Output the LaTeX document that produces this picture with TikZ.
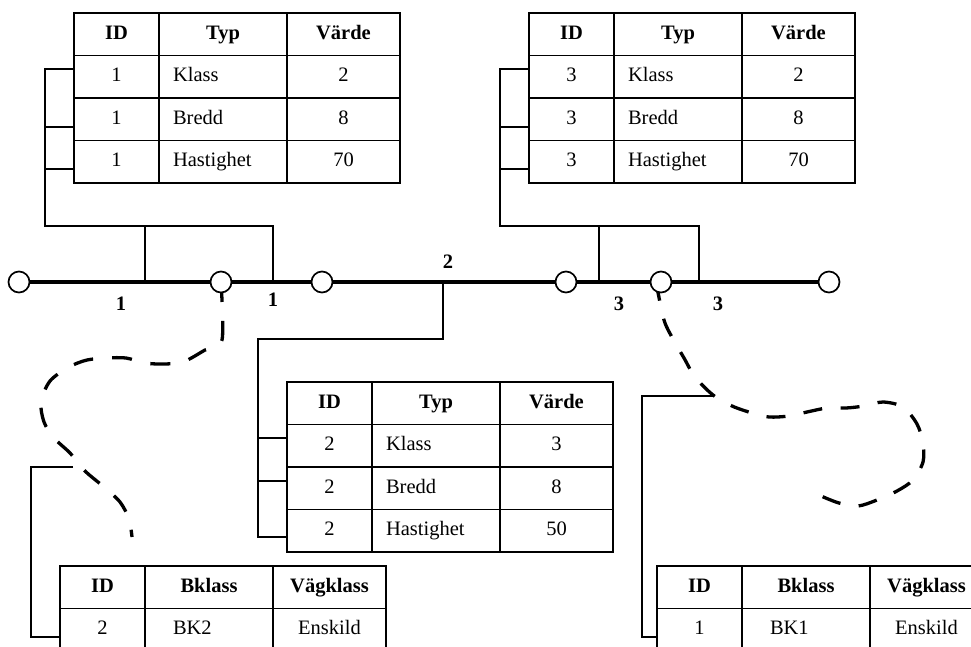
\documentclass[tikz,border=0pt]{standalone}
\usepackage{fontspec}
\setmainfont{Liberation Serif}
\usetikzlibrary{backgrounds}

% one row of a three-column attribute table, hung below row #3
\newcommand\datarow[7]{%
  \node[dcell, colA, anchor=north west] (#1-#2-1) at (#1-#3-1.south west) {#4};
  \node[dcell, colB, #7, anchor=north west] (#1-#2-2) at (#1-#2-1.north east) {#5};
  \node[dcell, colC, anchor=north west] (#1-#2-3) at (#1-#2-2.north east) {#6};}
% heading row of a table, top left corner at #2
\newcommand\headrow[4]{%
  \node[hcell, colA, anchor=north west] (#1-0-1) at (#2) {ID};
  \node[hcell, colB, anchor=north west] (#1-0-2) at (#1-0-1.north east) {#3};
  \node[hcell, colC, anchor=north west] (#1-0-3) at (#1-0-2.north east) {#4};}

\begin{document}
\begin{tikzpicture}[x=1pt, y=-1pt,
  txt/.style={font=\fontsize{20.5}{24}\selectfont},
  grid/.style={txt, draw, line width=1.9pt, outer sep=0pt, inner sep=0pt,
    minimum height=42.5pt, text height=14pt, text depth=4.5pt},
  hcell/.style={grid, font=\fontsize{20.5}{24}\selectfont\bfseries},
  dcell/.style={grid},
  colA/.style={minimum width=85pt},
  colB/.style={minimum width=128pt},
  colC/.style={minimum width=113pt},
  padS/.style={text width=100pt, inner xsep=14pt, align=left},
  padL/.style={text width=72pt, inner xsep=28pt, align=left},
  link/.style={line width=1.7pt},
  road/.style={line width=4.8pt},
  stop/.style={circle, draw, fill=white, line width=1.7pt, minimum size=21pt, inner sep=0pt},
  trace/.style={line width=3.3pt, dash pattern=on 20pt off 19pt},
  lbl/.style={font=\fontsize{20.5}{24}\selectfont\bfseries, inner sep=0pt}]

\useasboundingbox (0,0) rectangle (971,646);
\clip (0,0) rectangle (971,646);

% ---- attribute tables ----
\coordinate (tl-o) at (74,13);
\headrow{tl}{tl-o}{Typ}{Värde}
\datarow{tl}{1}{0}{1}{Klass}{2}{padS}
\datarow{tl}{2}{1}{1}{Bredd}{8}{padS}
\datarow{tl}{3}{2}{1}{Hastighet}{70}{padS}

\coordinate (tr-o) at (529,13);
\headrow{tr}{tr-o}{Typ}{Värde}
\datarow{tr}{1}{0}{3}{Klass}{2}{padS}
\datarow{tr}{2}{1}{3}{Bredd}{8}{padS}
\datarow{tr}{3}{2}{3}{Hastighet}{70}{padS}

\coordinate (mt-o) at (287,382);
\headrow{mt}{mt-o}{Typ}{Värde}
\datarow{mt}{1}{0}{2}{Klass}{3}{padS}
\datarow{mt}{2}{1}{2}{Bredd}{8}{padS}
\datarow{mt}{3}{2}{2}{Hastighet}{50}{padS}

\coordinate (bl-o) at (60,566);
\headrow{bl}{bl-o}{Bklass}{Vägklass}
\datarow{bl}{1}{0}{2}{BK2}{Enskild}{padL}

\coordinate (br-o) at (657,566);
\headrow{br}{br-o}{Bklass}{Vägklass}
\datarow{br}{1}{0}{1}{BK1}{Enskild}{padL}

% ---- road with its nodes ----
\foreach \n/\x in {n1/19, n2/221, n3/322, n4/566, n5/661, n6/829}
  \node[stop] (\n) at (\x,282) {};
\coordinate (j1a) at (145,282);
\coordinate (j1b) at (273,282);
\coordinate (j2)  at (443,282);
\coordinate (j3a) at (599,282);
\coordinate (j3b) at (699,282);

% ---- table to segment links ----
\coordinate (tl-bus) at (45,226);
\coordinate (tl-fork) at (145,226);
\draw[link] ([yshift=7.5pt]tl-1-1.west) -| (tl-bus) -| (j1b);
\draw[link] ([yshift=-7.5pt]tl-2-1.west) -- ++(-29,0);
\draw[link] ([yshift=-7.5pt]tl-3-1.west) -- ++(-29,0);
\draw[link] (tl-fork) -- (j1a);

\coordinate (tr-bus) at (500,226);
\coordinate (tr-fork) at (599,226);
\draw[link] ([yshift=7.5pt]tr-1-1.west) -| (tr-bus) -| (j3b);
\draw[link] ([yshift=-7.5pt]tr-2-1.west) -- ++(-29,0);
\draw[link] ([yshift=-7.5pt]tr-3-1.west) -- ++(-29,0);
\draw[link] (tr-fork) -- (j3a);

\coordinate (mt-bend) at (443,339);
\coordinate (mt-bus) at (258,339);
\draw[link] (j2) -- (mt-bend) -- (mt-bus) |- ([yshift=-6.25pt]mt-3-1.west);
\draw[link] ([yshift=7.75pt]mt-1-1.west) -- ++(-29,0);
\draw[link] ([yshift=7pt]mt-2-1.west) -- ++(-29,0);

\coordinate (bl-tip) at (73,467);
\coordinate (bl-bus) at (31,467);
\draw[link] (bl-tip) -- (bl-bus) |- ([yshift=-7.25pt]bl-1-1.west);

\coordinate (br-tip) at (713,396);
\coordinate (br-bus) at (642,396);
\draw[link] (br-tip) -- (br-bus) |- ([yshift=-7.25pt]br-1-1.west);

% ---- road line ----
\draw[road] (n1) -- (n2) -- (n3) -- (n4) -- (n5) -- (n6);

% ---- segment labels ----
\node[lbl] (s1) at (121,304) {1};
\node[lbl] (s2) at (273,300) {1};
\node[lbl] (s3) at (448,262) {2};
\node[lbl] (s4) at (619,304) {3};
\node[lbl] (s5) at (718,304) {3};

% ---- dashed traces from nodes to their tables ----
\begin{pgfonlayer}{background}
\draw[trace] plot[smooth] coordinates {(n2.center) (222,340) (205,350) (183,362)
  (163,364) (145,363) (126,358) (107,358) (87,360) (69,367) (50,381) (41,402)
  (44,422) (54,438) (70,453) (85,471) (104,487) (120,502) (129,519) (132,537)};
\draw[trace, dash pattern=on 19pt off 18.5pt] plot[smooth] coordinates {([xshift=-5pt]n5.center) (664,320) (673,339)
  (684,358) (695,377) (713,395) (732,406) (752,413) (769,417) (789,416) (807,412)
  (827,408) (846,408) (864,406) (883,402) (903,407) (917,424) (923,443) (923,462)
  (913,480) (897,491) (877,500) (858,506) (839,503) (821,496)};
\end{pgfonlayer}
\end{tikzpicture}
\end{document}
